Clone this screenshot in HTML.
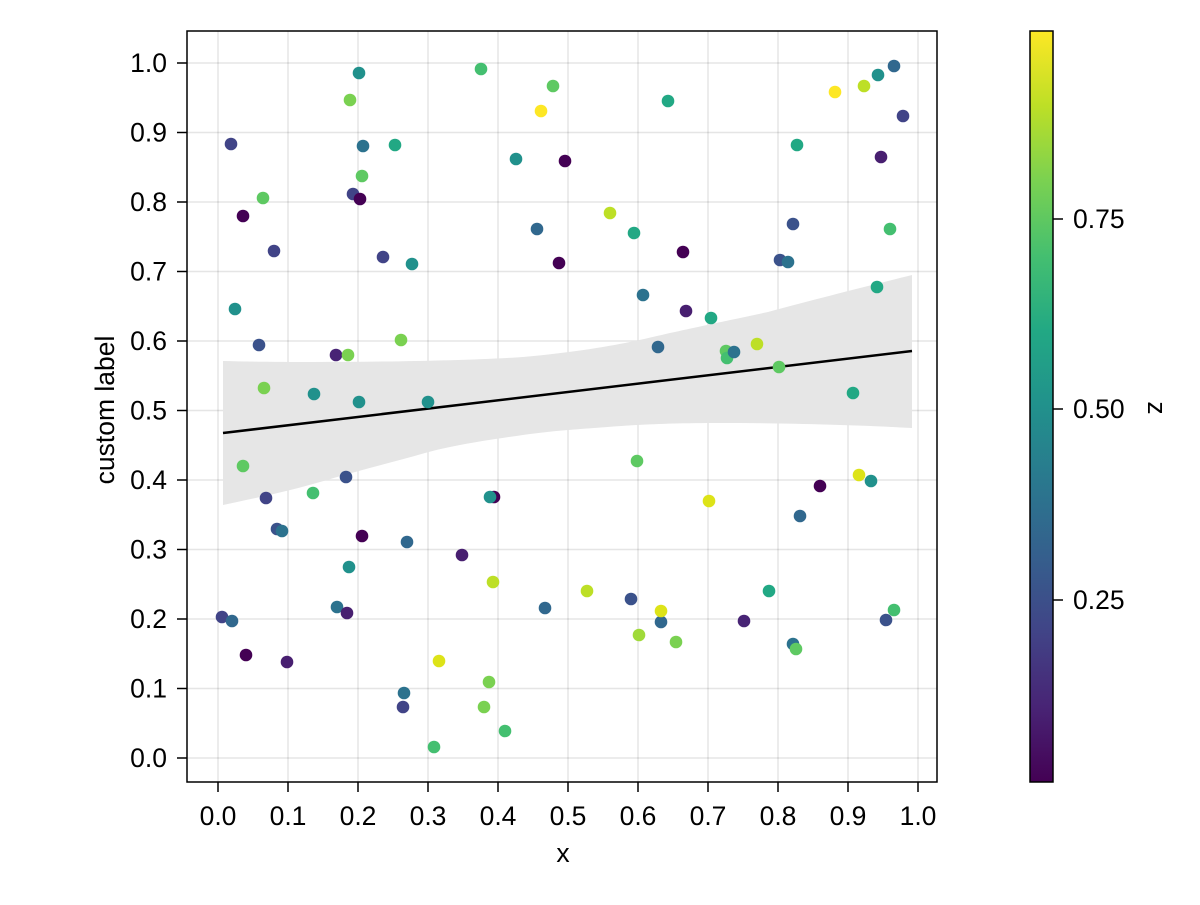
<!DOCTYPE html>
<html><head><meta charset="utf-8"><style>
html,body{margin:0;padding:0;background:#fff}
text{font-family:"Liberation Sans",sans-serif;font-size:26.5px;fill:#000}
</style></head><body>
<svg width="1200" height="900" xmlns="http://www.w3.org/2000/svg">
<defs>
<linearGradient id="vir" x1="0" y1="1" x2="0" y2="0">
<stop offset="0" stop-color="#440154"/><stop offset="0.1" stop-color="#482475"/>
<stop offset="0.2" stop-color="#414487"/><stop offset="0.3" stop-color="#355f8d"/>
<stop offset="0.4" stop-color="#2a788e"/><stop offset="0.5" stop-color="#21918c"/>
<stop offset="0.6" stop-color="#22a884"/><stop offset="0.7" stop-color="#44bf70"/>
<stop offset="0.8" stop-color="#7ad151"/><stop offset="0.9" stop-color="#bddf26"/>
<stop offset="1" stop-color="#fde725"/>
</linearGradient>
</defs>
<g stroke="#000" stroke-opacity="0.1" stroke-width="1.5">
<line x1="218" y1="31" x2="218" y2="782"/><line x1="288" y1="31" x2="288" y2="782"/>
<line x1="358" y1="31" x2="358" y2="782"/><line x1="428" y1="31" x2="428" y2="782"/>
<line x1="498" y1="31" x2="498" y2="782"/><line x1="568" y1="31" x2="568" y2="782"/>
<line x1="638" y1="31" x2="638" y2="782"/><line x1="708" y1="31" x2="708" y2="782"/>
<line x1="778" y1="31" x2="778" y2="782"/><line x1="848" y1="31" x2="848" y2="782"/>
<line x1="918" y1="31" x2="918" y2="782"/>
<line x1="187" y1="758" x2="937" y2="758"/><line x1="187" y1="688.5" x2="937" y2="688.5"/>
<line x1="187" y1="619" x2="937" y2="619"/><line x1="187" y1="549.5" x2="937" y2="549.5"/>
<line x1="187" y1="480" x2="937" y2="480"/><line x1="187" y1="410.5" x2="937" y2="410.5"/>
<line x1="187" y1="341" x2="937" y2="341"/><line x1="187" y1="271.5" x2="937" y2="271.5"/>
<line x1="187" y1="202" x2="937" y2="202"/><line x1="187" y1="132.5" x2="937" y2="132.5"/>
<line x1="187" y1="63" x2="937" y2="63"/>
</g>
<path d="M223,361 C300,363 450,362 523,357 C600,350 640,340 670,333 C720,322 740,318 768,312 C820,298 860,288 912,275 L912,428 C860,425 780,423 719,423 C680,423 650,424 621,426 C580,429 550,431 523,435 C480,441 450,446 425,453 C390,463 360,470 327,480 C290,491 260,497 223,505 Z" fill="#e6e6e6"/>
<line x1="223" y1="433" x2="912" y2="351" stroke="#000" stroke-width="2.5"/>
<g>
<circle cx="222" cy="617" r="6.3" fill="#414487"/>
<circle cx="232" cy="621" r="6.3" fill="#31688e"/>
<circle cx="246" cy="655" r="6.3" fill="#440154"/>
<circle cx="231" cy="144" r="6.3" fill="#414487"/>
<circle cx="235" cy="309" r="6.3" fill="#21918c"/>
<circle cx="243" cy="216" r="6.3" fill="#440154"/>
<circle cx="263" cy="198" r="6.3" fill="#5ec962"/>
<circle cx="259" cy="345" r="6.3" fill="#3b528b"/>
<circle cx="264" cy="388" r="6.3" fill="#7ad151"/>
<circle cx="266" cy="498" r="6.3" fill="#414487"/>
<circle cx="274" cy="251" r="6.3" fill="#414487"/>
<circle cx="277" cy="529" r="6.3" fill="#3b528b"/>
<circle cx="282" cy="531" r="6.3" fill="#2c728e"/>
<circle cx="243" cy="466" r="6.3" fill="#5ec962"/>
<circle cx="287" cy="662" r="6.3" fill="#481f70"/>
<circle cx="314" cy="394" r="6.3" fill="#21918c"/>
<circle cx="313" cy="493" r="6.3" fill="#44bf70"/>
<circle cx="336" cy="355" r="6.3" fill="#482475"/>
<circle cx="348" cy="355" r="6.3" fill="#7ad151"/>
<circle cx="346" cy="477" r="6.3" fill="#3b528b"/>
<circle cx="349" cy="567" r="6.3" fill="#21918c"/>
<circle cx="337" cy="607" r="6.3" fill="#2c728e"/>
<circle cx="347" cy="613" r="6.3" fill="#481f70"/>
<circle cx="350" cy="100" r="6.3" fill="#7ad151"/>
<circle cx="353" cy="194" r="6.3" fill="#414487"/>
<circle cx="360" cy="199" r="6.3" fill="#440154"/>
<circle cx="359" cy="73" r="6.3" fill="#21918c"/>
<circle cx="362" cy="176" r="6.3" fill="#5ec962"/>
<circle cx="363" cy="146" r="6.3" fill="#2c728e"/>
<circle cx="359" cy="402" r="6.3" fill="#21918c"/>
<circle cx="362" cy="536" r="6.3" fill="#440154"/>
<circle cx="383" cy="257" r="6.3" fill="#414487"/>
<circle cx="395" cy="145" r="6.3" fill="#22a884"/>
<circle cx="401" cy="340" r="6.3" fill="#7ad151"/>
<circle cx="404" cy="693" r="6.3" fill="#2c728e"/>
<circle cx="403" cy="707" r="6.3" fill="#414487"/>
<circle cx="407" cy="542" r="6.3" fill="#31688e"/>
<circle cx="412" cy="264" r="6.3" fill="#21918c"/>
<circle cx="428" cy="402" r="6.3" fill="#21918c"/>
<circle cx="434" cy="747" r="6.3" fill="#44bf70"/>
<circle cx="439" cy="661" r="6.3" fill="#dde318"/>
<circle cx="462" cy="555" r="6.3" fill="#481f70"/>
<circle cx="481" cy="69" r="6.3" fill="#44bf70"/>
<circle cx="484" cy="707" r="6.3" fill="#7ad151"/>
<circle cx="489" cy="682" r="6.3" fill="#7ad151"/>
<circle cx="493" cy="582" r="6.3" fill="#bddf26"/>
<circle cx="505" cy="731" r="6.3" fill="#44bf70"/>
<circle cx="494" cy="497" r="6.3" fill="#440154"/>
<circle cx="490" cy="497" r="6.3" fill="#21918c"/>
<circle cx="516" cy="159" r="6.3" fill="#21918c"/>
<circle cx="537" cy="229" r="6.3" fill="#31688e"/>
<circle cx="541" cy="111" r="6.3" fill="#fde725"/>
<circle cx="545" cy="608" r="6.3" fill="#31688e"/>
<circle cx="553" cy="86" r="6.3" fill="#5ec962"/>
<circle cx="559" cy="263" r="6.3" fill="#440154"/>
<circle cx="565" cy="161" r="6.3" fill="#440154"/>
<circle cx="587" cy="591" r="6.3" fill="#bddf26"/>
<circle cx="610" cy="213" r="6.3" fill="#bddf26"/>
<circle cx="631" cy="599" r="6.3" fill="#3b528b"/>
<circle cx="634" cy="233" r="6.3" fill="#22a884"/>
<circle cx="637" cy="461" r="6.3" fill="#5ec962"/>
<circle cx="639" cy="635" r="6.3" fill="#a0da39"/>
<circle cx="643" cy="295" r="6.3" fill="#2c728e"/>
<circle cx="658" cy="347" r="6.3" fill="#31688e"/>
<circle cx="661" cy="622" r="6.3" fill="#31688e"/>
<circle cx="661" cy="611" r="6.3" fill="#dde318"/>
<circle cx="668" cy="101" r="6.3" fill="#22a884"/>
<circle cx="676" cy="642" r="6.3" fill="#7ad151"/>
<circle cx="683" cy="252" r="6.3" fill="#440154"/>
<circle cx="686" cy="311" r="6.3" fill="#481f70"/>
<circle cx="709" cy="501" r="6.3" fill="#dde318"/>
<circle cx="711" cy="318" r="6.3" fill="#22a884"/>
<circle cx="726" cy="351" r="6.3" fill="#5ec962"/>
<circle cx="727" cy="358" r="6.3" fill="#44bf70"/>
<circle cx="734" cy="352" r="6.3" fill="#2c728e"/>
<circle cx="757" cy="344" r="6.3" fill="#bddf26"/>
<circle cx="744" cy="621" r="6.3" fill="#482475"/>
<circle cx="769" cy="591" r="6.3" fill="#22a884"/>
<circle cx="779" cy="367" r="6.3" fill="#5ec962"/>
<circle cx="780" cy="260" r="6.3" fill="#3b528b"/>
<circle cx="788" cy="262" r="6.3" fill="#2c728e"/>
<circle cx="793" cy="224" r="6.3" fill="#3b528b"/>
<circle cx="793" cy="644" r="6.3" fill="#2c728e"/>
<circle cx="796" cy="649" r="6.3" fill="#5ec962"/>
<circle cx="797" cy="145" r="6.3" fill="#22a884"/>
<circle cx="800" cy="516" r="6.3" fill="#31688e"/>
<circle cx="820" cy="486" r="6.3" fill="#440154"/>
<circle cx="835" cy="92" r="6.3" fill="#fde725"/>
<circle cx="859" cy="475" r="6.3" fill="#dde318"/>
<circle cx="853" cy="393" r="6.3" fill="#22a884"/>
<circle cx="864" cy="86" r="6.3" fill="#bddf26"/>
<circle cx="871" cy="481" r="6.3" fill="#21918c"/>
<circle cx="877" cy="287" r="6.3" fill="#22a884"/>
<circle cx="878" cy="75" r="6.3" fill="#21918c"/>
<circle cx="881" cy="157" r="6.3" fill="#481f70"/>
<circle cx="886" cy="620" r="6.3" fill="#3b528b"/>
<circle cx="890" cy="229" r="6.3" fill="#44bf70"/>
<circle cx="894" cy="610" r="6.3" fill="#44bf70"/>
<circle cx="894" cy="66" r="6.3" fill="#31688e"/>
<circle cx="903" cy="116" r="6.3" fill="#414487"/>
</g>
<rect x="187" y="31" width="750" height="751" fill="none" stroke="#000" stroke-width="1.5"/>
<g stroke="#000" stroke-width="1.5">
<line x1="218" y1="782" x2="218" y2="792"/><line x1="288" y1="782" x2="288" y2="792"/>
<line x1="358" y1="782" x2="358" y2="792"/><line x1="428" y1="782" x2="428" y2="792"/>
<line x1="498" y1="782" x2="498" y2="792"/><line x1="568" y1="782" x2="568" y2="792"/>
<line x1="638" y1="782" x2="638" y2="792"/><line x1="708" y1="782" x2="708" y2="792"/>
<line x1="778" y1="782" x2="778" y2="792"/><line x1="848" y1="782" x2="848" y2="792"/>
<line x1="918" y1="782" x2="918" y2="792"/>
<line x1="177" y1="758" x2="187" y2="758"/><line x1="177" y1="688.5" x2="187" y2="688.5"/>
<line x1="177" y1="619" x2="187" y2="619"/><line x1="177" y1="549.5" x2="187" y2="549.5"/>
<line x1="177" y1="480" x2="187" y2="480"/><line x1="177" y1="410.5" x2="187" y2="410.5"/>
<line x1="177" y1="341" x2="187" y2="341"/><line x1="177" y1="271.5" x2="187" y2="271.5"/>
<line x1="177" y1="202" x2="187" y2="202"/><line x1="177" y1="132.5" x2="187" y2="132.5"/>
<line x1="177" y1="63" x2="187" y2="63"/>
</g>
<g text-anchor="middle">
<text x="218" y="825">0.0</text><text x="288" y="825">0.1</text><text x="358" y="825">0.2</text>
<text x="428" y="825">0.3</text><text x="498" y="825">0.4</text><text x="568" y="825">0.5</text>
<text x="638" y="825">0.6</text><text x="708" y="825">0.7</text><text x="778" y="825">0.8</text>
<text x="848" y="825">0.9</text><text x="918" y="825">1.0</text>
<text x="563" y="862">x</text>
</g>
<g text-anchor="end">
<text x="167" y="767">0.0</text><text x="167" y="697.5">0.1</text><text x="167" y="628">0.2</text>
<text x="167" y="558.5">0.3</text><text x="167" y="489">0.4</text><text x="167" y="419.5">0.5</text>
<text x="167" y="350">0.6</text><text x="167" y="280.5">0.7</text><text x="167" y="211">0.8</text>
<text x="167" y="141.5">0.9</text><text x="167" y="72">1.0</text>
</g>
<text transform="translate(114,410) rotate(-90)" text-anchor="middle">custom label</text>
<rect x="1030" y="31" width="23" height="751" fill="url(#vir)" stroke="#000" stroke-width="1.5"/>
<g stroke="#000" stroke-width="1.5">
<line x1="1053" y1="219" x2="1063" y2="219"/><line x1="1053" y1="409" x2="1063" y2="409"/><line x1="1053" y1="600" x2="1063" y2="600"/>
</g>
<text x="1073" y="228">0.75</text><text x="1073" y="418">0.50</text><text x="1073" y="609">0.25</text>
<text transform="translate(1148,408) rotate(90)" text-anchor="middle">z</text>
</svg>
</body></html>
